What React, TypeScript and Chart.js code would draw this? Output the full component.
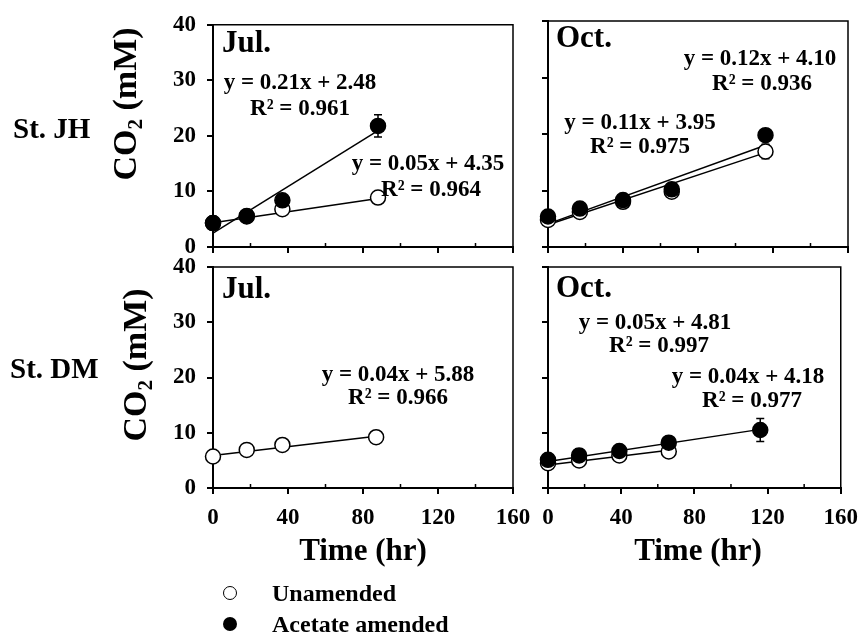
import React, { useEffect, useRef } from "react";
import { Chart, registerables } from "chart.js";

Chart.register(...registerables);

const W = 868;
const H = 637;
const FONT = "'Liberation Serif', 'Times New Roman', serif";

// ---------------- data ----------------
const xTicks = [0, 40, 80, 120, 160];
const xMinorTicks = [20, 60, 100, 140];
const yTicks = [0, 10, 20, 30, 40];

// St. JH, July
const jhJulTime = [0, 18, 37, 88];
const jhJulUnamended = [4.3, 5.5, 6.8, 8.9];
const jhJulUnamendedErr = [0, 0, 0, 0];
const jhJulAcetate = [4.3, 5.6, 8.4, 21.8];
const jhJulAcetateErr = [0, 0, 0.6, 2.0];
const jhJulSlopes = [0.05, 0.21]; // unamended, acetate
const jhJulIntercepts = [4.35, 2.48];

// St. JH, October
const jhOctTime = [0, 17, 40, 66, 116];
const jhOctUnamended = [4.8, 6.2, 8.0, 9.8, 16.9];
const jhOctUnamendedErr = [0, 0, 0, 0.4, 1.3];
const jhOctAcetate = [5.4, 6.8, 8.3, 10.2, 19.8];
const jhOctAcetateErr = [0, 0, 0, 0, 0];
const jhOctSlopes = [0.11, 0.12];
const jhOctIntercepts = [3.95, 4.1];

// St. DM, July
const dmJulTime = [0, 18, 37, 87];
const dmJulUnamended = [5.7, 6.9, 7.8, 9.2];
const dmJulUnamendedErr = [0, 0, 0, 0];
const dmJulSlopes = [0.04];
const dmJulIntercepts = [5.88];

// St. DM, October
const dmOctTime = [0, 17, 39, 66, 116];
const dmOctUnamended = [4.5, 5.0, 5.9, 6.6];
const dmOctUnamendedErr = [0, 0, 0, 0.4];
const dmOctAcetate = [5.1, 5.9, 6.7, 8.2, 10.5];
const dmOctAcetateErr = [0.4, 1.2, 0.5, 0.4, 2.1];
const dmOctSlopes = [0.04, 0.05];
const dmOctIntercepts = [4.18, 4.81];

// ---------------- config types ----------------
type Series = { time: number[]; values: number[]; err: number[]; filled: boolean };
type Ann = { text: string; dx: number; dy: number; align: CanvasTextAlign; size: number };
type Panel = {
  left: number;
  top: number;
  right: number;
  bottom: number;
  showY: boolean;
  showX: boolean;
  series: Series[];
  slopes: number[];
  intercepts: number[];
  anns: Ann[];
};

const EQ = 23;
const MON = 31;

const panels: Panel[] = [
  {
    left: 213, top: 21, right: 513, bottom: 247, showY: true, showX: false,
    series: [
      { time: jhJulTime, values: jhJulUnamended, err: jhJulUnamendedErr, filled: false },
      { time: jhJulTime, values: jhJulAcetate, err: jhJulAcetateErr, filled: true },
    ],
    slopes: jhJulSlopes, intercepts: jhJulIntercepts,
    anns: [
      { text: "Jul.", dx: 9, dy: 19, align: "left", size: MON },
      { text: "y = 0.21x + 2.48", dx: 87, dy: 58, align: "center", size: EQ },
      { text: "R² = 0.961", dx: 87, dy: 84, align: "center", size: EQ },
      { text: "y = 0.05x + 4.35", dx: 215, dy: 139, align: "center", size: EQ },
      { text: "R² = 0.964", dx: 218, dy: 165, align: "center", size: EQ },
    ],
  },
  {
    left: 548, top: 21, right: 848, bottom: 247, showY: false, showX: false,
    series: [
      { time: jhOctTime, values: jhOctUnamended, err: jhOctUnamendedErr, filled: false },
      { time: jhOctTime, values: jhOctAcetate, err: jhOctAcetateErr, filled: true },
    ],
    slopes: jhOctSlopes, intercepts: jhOctIntercepts,
    anns: [
      { text: "Oct.", dx: 8, dy: 18, align: "left", size: MON },
      { text: "y = 0.12x + 4.10", dx: 212, dy: 38, align: "center", size: EQ },
      { text: "R² = 0.936", dx: 214, dy: 63, align: "center", size: EQ },
      { text: "y = 0.11x + 3.95", dx: 92, dy: 102, align: "center", size: EQ },
      { text: "R² = 0.975", dx: 92, dy: 126, align: "center", size: EQ },
    ],
  },
  {
    left: 213, top: 267, right: 513, bottom: 488, showY: true, showX: true,
    series: [
      { time: dmJulTime, values: dmJulUnamended, err: dmJulUnamendedErr, filled: false },
    ],
    slopes: dmJulSlopes, intercepts: dmJulIntercepts,
    anns: [
      { text: "Jul.", dx: 9, dy: 23, align: "left", size: MON },
      { text: "y = 0.04x + 5.88", dx: 185, dy: 108, align: "center", size: EQ },
      { text: "R² = 0.966", dx: 185, dy: 131, align: "center", size: EQ },
    ],
  },
  {
    left: 548, top: 267, right: 848, bottom: 488, showY: false, showX: true,
    series: [
      { time: dmOctTime, values: dmOctUnamended, err: dmOctUnamendedErr, filled: false },
      { time: dmOctTime, values: dmOctAcetate, err: dmOctAcetateErr, filled: true },
    ],
    slopes: dmOctSlopes, intercepts: dmOctIntercepts,
    anns: [
      { text: "Oct.", dx: 8, dy: 22, align: "left", size: MON },
      { text: "y = 0.05x + 4.81", dx: 107, dy: 56, align: "center", size: EQ },
      { text: "R² = 0.997", dx: 111, dy: 79, align: "center", size: EQ },
      { text: "y = 0.04x + 4.18", dx: 200, dy: 110, align: "center", size: EQ },
      { text: "R² = 0.977", dx: 204, dy: 134, align: "center", size: EQ },
    ],
  },
];

function buildConfig(p: Panel): any {
  const datasets: any[] = [];
  p.series.forEach((s, si) => {
    const n = s.values.length;
    const x0 = s.time[0];
    const x1 = s.time[n - 1];
    const m = p.slopes[si];
    const b = p.intercepts[si];
    datasets.push({
      data: [
        { x: x0, y: m * x0 + b },
        { x: x1, y: m * x1 + b },
      ],
      showLine: true,
      borderColor: "#000",
      borderWidth: 1.5,
      pointRadius: 0,
      clip: false,
      order: 5,
    });
  });
  p.series.forEach((s) => {
    datasets.push({
      data: s.values.map((v, i) => ({ x: s.time[i], y: v })),
      showLine: false,
      pointRadius: 7.5,
      pointBorderWidth: 1.5,
      pointBorderColor: "#000",
      pointBackgroundColor: s.filled ? "#000" : "#fff",
      clip: false,
      order: s.filled ? 1 : 2,
    });
  });

  const deco = {
    id: "deco",
    beforeDatasetsDraw(chart: any) {
      const { ctx, chartArea: a, scales } = chart;
      const xs = scales.x;
      const ys = scales.y;
      ctx.save();
      ctx.strokeStyle = "#000";
      ctx.lineWidth = 1.5;
      ctx.beginPath();
      ctx.moveTo(a.left, a.top);
      ctx.lineTo(a.right, a.top);
      ctx.lineTo(a.right, a.bottom);
      ctx.stroke();
      ctx.beginPath();
      xMinorTicks.forEach((v) => {
        const px = xs.getPixelForValue(v);
        ctx.moveTo(px, a.bottom);
        ctx.lineTo(px, a.bottom - 4);
      });
      ctx.stroke();
      ctx.lineWidth = 1.5;
      p.series.forEach((s) => {
        s.err.forEach((e, i) => {
          if (!e || i >= s.values.length) return;
          const px = xs.getPixelForValue(s.time[i]);
          const yt = ys.getPixelForValue(s.values[i] + e);
          const yb = ys.getPixelForValue(s.values[i] - e);
          ctx.beginPath();
          ctx.moveTo(px, yt);
          ctx.lineTo(px, yb);
          ctx.moveTo(px - 4, yt);
          ctx.lineTo(px + 4, yt);
          ctx.moveTo(px - 4, yb);
          ctx.lineTo(px + 4, yb);
          ctx.stroke();
        });
      });
      ctx.restore();
    },
    afterDraw(chart: any) {
      const { ctx, chartArea: a } = chart;
      ctx.save();
      ctx.fillStyle = "#000";
      ctx.textBaseline = "middle";
      p.anns.forEach((t) => {
        ctx.font = `bold ${t.size}px ${FONT}`;
        ctx.textAlign = t.align;
        ctx.fillText(t.text, a.left + t.dx, a.top + t.dy);
      });
      ctx.restore();
    },
  };

  const tickFont = { family: FONT, size: 23, weight: "bold" as const };

  return {
    type: "scatter",
    data: { datasets },
    plugins: [deco],
    options: {
      animation: false,
      responsive: false,
      devicePixelRatio: 1,
      events: [],
      layout: { padding: { left: 0, top: p.top, right: W - p.right, bottom: 0 } },
      plugins: { legend: { display: false }, tooltip: { enabled: false } },
      scales: {
        x: {
          type: "linear",
          min: 0,
          max: 160,
          afterBuildTicks: (s: any) => {
            s.ticks = xTicks.map((v) => ({ value: v }));
          },
          afterFit: (s: any) => {
            s.height = H - p.bottom;
          },
          ticks: {
            display: p.showX,
            color: "#000",
            font: tickFont,
            padding: 10,
            maxRotation: 0,
            autoSkip: false,
          },
          grid: {
            drawOnChartArea: false,
            drawTicks: true,
            tickLength: 6,
            color: "#000",
            lineWidth: 2,
          },
          border: { display: true, color: "#000", width: 2 },
        },
        y: {
          type: "linear",
          min: 0,
          max: 40,
          afterBuildTicks: (s: any) => {
            s.ticks = yTicks.map((v) => ({ value: v }));
          },
          afterFit: (s: any) => {
            s.width = p.left;
          },
          ticks: {
            display: p.showY,
            color: "#000",
            font: tickFont,
            padding: 11,
            autoSkip: false,
          },
          grid: {
            drawOnChartArea: false,
            drawTicks: true,
            tickLength: 6,
            color: "#000",
            lineWidth: 2,
          },
          border: { display: true, color: "#000", width: 2 },
        },
      },
    },
  };
}

function PanelChart({ p }: { p: Panel }) {
  const ref = useRef<HTMLCanvasElement>(null);
  useEffect(() => {
    const chart = new Chart(ref.current as HTMLCanvasElement, buildConfig(p));
    return () => chart.destroy();
  }, [p]);
  return (
    <canvas
      ref={ref}
      width={W}
      height={H}
      style={{ position: "absolute", left: 0, top: 0, width: W, height: H }}
    />
  );
}

const textBase: React.CSSProperties = {
  position: "absolute",
  fontFamily: FONT,
  fontWeight: "bold",
  color: "#000",
  lineHeight: 1,
  whiteSpace: "nowrap",
};

function Centered({ x, y, size, rotate, children }: any) {
  return (
    <div
      style={{
        ...textBase,
        left: x,
        top: y,
        fontSize: size,
        transform: `translate(-50%, -50%)${rotate ? " rotate(-90deg)" : ""}`,
      }}
    >
      {children}
    </div>
  );
}

function LeftText({ x, y, size, children }: any) {
  return (
    <div style={{ ...textBase, left: x, top: y, fontSize: size, transform: "translateY(-50%)" }}>
      {children}
    </div>
  );
}

const co2 = (
  <>
    CO<sub style={{ fontSize: "0.62em", verticalAlign: "-0.3em" }}>2</sub> (mM)
  </>
);

export default function App() {
  return (
    <div
      style={{
        position: "fixed",
        left: 0,
        top: 0,
        width: W,
        height: H,
        background: "#fff",
        overflow: "hidden",
      }}
    >
      {panels.map((p, i) => (
        <PanelChart key={i} p={p} />
      ))}
      <LeftText x={13} y={128} size={29}>St. JH</LeftText>
      <LeftText x={10} y={368} size={29}>St. DM</LeftText>
      <Centered x={127} y={104} size={34} rotate>{co2}</Centered>
      <Centered x={137} y={365} size={34} rotate>{co2}</Centered>
      <Centered x={363} y={549} size={31}>Time (hr)</Centered>
      <Centered x={698} y={549} size={31}>Time (hr)</Centered>
      <div
        style={{
          position: "absolute",
          left: 230 - 7,
          top: 593 - 7,
          width: 12,
          height: 12,
          borderRadius: "50%",
          border: "1.5px solid #000",
          background: "#fff",
        }}
      />
      <div
        style={{
          position: "absolute",
          left: 230 - 7,
          top: 624 - 7,
          width: 14,
          height: 14,
          borderRadius: "50%",
          background: "#000",
        }}
      />
      <LeftText x={272} y={593} size={24}>Unamended</LeftText>
      <LeftText x={272} y={624} size={24}>Acetate amended</LeftText>
    </div>
  );
}
